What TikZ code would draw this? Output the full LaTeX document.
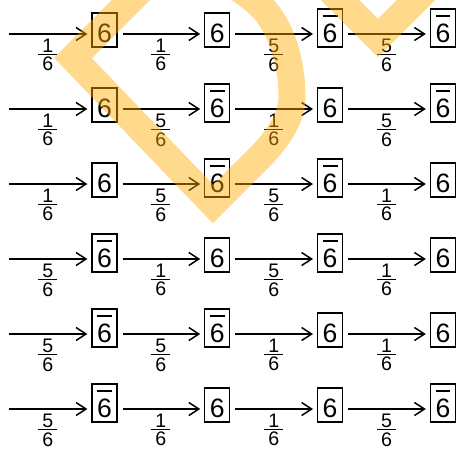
\documentclass[tikz,border=0pt]{standalone}
\usepackage{fontspec}
\setmainfont{Liberation Sans}
\usetikzlibrary{arrows.meta}
\definecolor{wmorange}{RGB}{255,170,0}
\newcommand{\sixbar}{\vbox{\hrule height 1pt\kern3.2pt\hbox{6}}}
\newcommand{\fr}[2]{\vbox{\hbox to 9.5pt{\hfil#1\hfil}\kern0.8pt\hrule height 0.65pt\kern1.1pt\hbox to 9.5pt{\hfil#2\hfil}}}

\begin{document}
\begin{tikzpicture}[x=0.5pt, y=-0.5pt,
    dieface/.style={draw, line width=0.6pt, inner xsep=2.5pt, inner ysep=2.5pt,
      text depth=0pt, minimum width=12.5pt, anchor=base,
      font=\fontsize{13.3pt}{16pt}\selectfont},
    roll/.style={-{Straight Barb[length=5pt,width=6.5pt,line width=0.75pt]}, line width=0.6pt,
      shorten <=2.5pt, shorten >=2pt},
    prob/.style={midway, below=2pt, inner sep=0pt, font=\fontsize{9.8pt}{12pt}\selectfont},
    watermark/.style={line width=13.5pt, draw=wmorange, draw opacity=0.45, line join=miter}]
    \useasboundingbox (0,0) rectangle (458,450);

    % Rows of rolls: 1 = six, 5 = not six
    \foreach \r/\row in {1/{1,1,5,5}, 2/{1,5,1,5}, 3/{1,5,5,1},
                         4/{5,1,5,1}, 5/{5,5,1,1}, 6/{5,1,1,5}} {
      \coordinate (s\r) at (4,{75*\r-41});
      \foreach \n [count=\c] in \row {
        \ifnum\n=5 \def\face{\sixbar}\def\faceht{14pt}\else\def\face{6}\def\faceht{12pt}\fi
        \node[dieface, text height=\faceht] (b\r-\c) at ({104.5+112.8*(\c-1)},{75*\r-33}) {\face};
        \pgfmathtruncatemacro\p{\c-1}
        \ifnum\c=1
          \draw[roll] (s\r) -- (b\r-\c.west |- s\r) node[prob] {\fr{\n}{6}};
        \else
          \draw[roll] (b\r-\p.east |- s\r) -- (b\r-\c.west |- s\r) node[prob] {\fr{\n}{6}};
        \fi
      }
    }

    % Watermark
    \begin{scope}
      \clip (0,0) rectangle (458,450);
      \draw[watermark] (150,-19) -- (73,58) -- (213,204) -- (258,159)
        .. controls (275,142) and (292,120) .. (292,97)
        .. controls (292,60) and (280,20) .. (254,0)
        .. controls (245,-8) and (235,-14) .. (225,-20);
      \draw[watermark] (320,-20) -- (378,38) -- (436,-20);
    \end{scope}
\end{tikzpicture}
\end{document}
